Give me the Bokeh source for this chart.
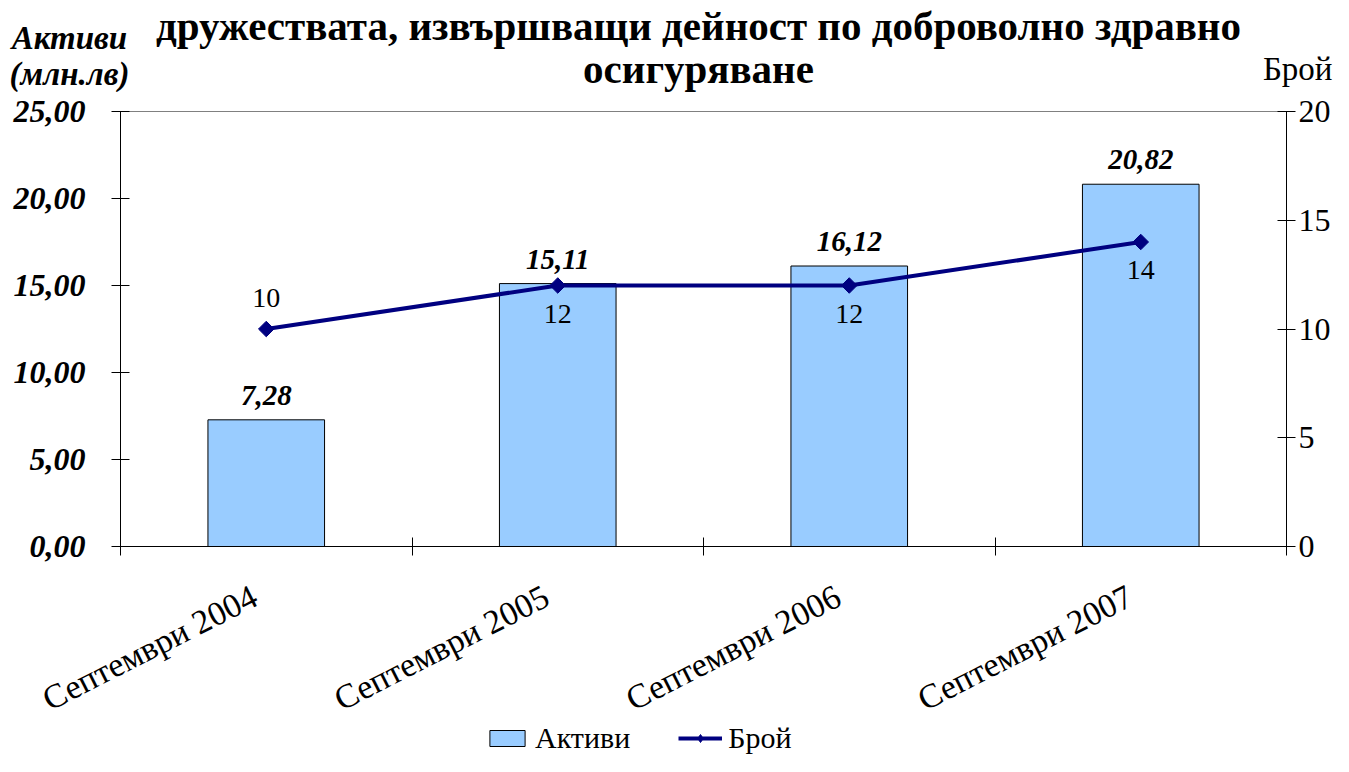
import math
from bokeh.plotting import figure
from bokeh.layouts import column
from bokeh.models import (Range1d, LinearAxis, FixedTicker, CustomJSTickFormatter,
                          ColumnDataSource, LabelSet, Legend, LegendItem)
from bokeh.core.properties import value
from bokeh.embed import file_html
from bokeh.resources import INLINE

# ---- data ----
categories = ["Септември 2004", "Септември 2005", "Септември 2006", "Септември 2007"]
assets = [7.28, 15.11, 16.12, 20.82]
counts = [10, 12, 12, 14]
left_ticks = [0, 5, 10, 15, 20, 25]
right_ticks = [0, 5, 10, 15, 20]
title_lines = ["дружествата, извършващи дейност по доброволно здравно", "осигуряване"]
left_title = ["Активи", "(млн.лв)"]
right_title = "Брой"
series_names = ["Активи", "Брой"]

SERIF = "Liberation Serif"
BAR_COLOR = "#99CCFF"
LINE_COLOR = "#000080"

# ---- layout constants (pixels) ----
W = 1333
HEAD_H = 92
FRAME_L, FRAME_R = 120, 46          # side borders of the plot area
FRAME_TOP, FRAME_H, FRAME_BOT = 19, 435, 19
MAIN_H = FRAME_TOP + FRAME_H + FRAME_BOT
FOOT_H = 756 - HEAD_H - MAIN_H
N = len(categories)
px_per_unit = (W - FRAME_L - FRAME_R) / N

xs = [i + 0.5 for i in range(N)]
bounds = list(range(N + 1))

# ---- header (titles above the plot area) ----
head = figure(width=W, height=HEAD_H, output_backend="svg", toolbar_location=None,
              x_range=Range1d(0, W), y_range=Range1d(HEAD_H, 0),
              x_axis_location=None, y_axis_location=None,
              min_border=0, min_border_left=0, min_border_right=0,
              min_border_top=0, min_border_bottom=0, outline_line_color=None)
head.frame_align = False
head.grid.visible = False
head.text(x=[698, 698], y=[25, 68], text=title_lines,
          text_font=value(SERIF), text_font_size="41px", text_font_style="bold",
          text_align="center", text_baseline="alphabetic", text_color="black")
head.text(x=[69, 69], y=[37, 73], text=left_title,
          text_font=value(SERIF), text_font_size="33px", text_font_style="bold italic",
          text_align="center", text_baseline="alphabetic", text_color="black")
head.text(x=[1332], y=[68], text=[right_title],
          text_font=value(SERIF), text_font_size="33px",
          text_align="right", text_baseline="alphabetic", text_color="black")

# ---- main chart ----
count_label_offsets = [22, -37, -37, -37]
src = ColumnDataSource(dict(
    x=xs, assets=assets, counts=counts,
    asset_lbl=[f"{v:.2f}".replace(".", ",") for v in assets],
    count_lbl=[str(c) for c in counts],
    count_off=count_label_offsets,
))

p = figure(width=W, height=MAIN_H, output_backend="svg", toolbar_location=None,
           x_range=Range1d(0, N), y_range=Range1d(0, 25),
           min_border_left=FRAME_L, min_border_right=FRAME_R,
           min_border_top=FRAME_TOP, min_border_bottom=FRAME_BOT)
p.frame_align = False
p.extra_y_ranges = {"cnt": Range1d(0, 20)}
p.grid.visible = False
p.outline_line_color = "#808080"
p.outline_line_width = 1
p.background_fill_color = "white"
p.border_fill_color = "white"

# left axis
ya = p.yaxis[0]
ya.ticker = FixedTicker(ticks=left_ticks, minor_ticks=[])
ya.formatter = CustomJSTickFormatter(code="return tick.toFixed(2).replace('.', ',')")
ya.axis_line_color = "black"
ya.major_tick_line_color = "black"
ya.major_tick_in = 9
ya.major_tick_out = 9
ya.minor_tick_line_color = None
ya.major_label_standoff = 26
ya.major_label_text_font = SERIF
ya.major_label_text_font_size = "32px"
ya.major_label_text_font_style = "bold italic"
ya.major_label_text_color = "black"

# right axis
ra = LinearAxis(y_range_name="cnt")
ra.ticker = FixedTicker(ticks=right_ticks, minor_ticks=[])
ra.axis_line_color = "black"
ra.major_tick_line_color = "black"
ra.major_tick_in = 9
ra.major_tick_out = 9
ra.minor_tick_line_color = None
ra.major_label_standoff = 3
ra.major_label_text_font = SERIF
ra.major_label_text_font_size = "32px"
ra.major_label_text_color = "black"
p.add_layout(ra, "right")

# bottom axis: only the ticks at category boundaries
xa = p.xaxis[0]
xa.ticker = FixedTicker(ticks=[], minor_ticks=bounds)
xa.axis_line_color = "black"
xa.major_tick_line_color = None
xa.major_tick_in = 0
xa.major_tick_out = 0
xa.minor_tick_line_color = "black"
xa.minor_tick_in = 9
xa.minor_tick_out = 9
xa.major_label_standoff = 0

# glyphs
bars = p.vbar(x="x", top="assets", width=0.4, source=src,
              fill_color=BAR_COLOR, line_color="black", line_width=1)
ln = p.line(x="x", y="counts", source=src, y_range_name="cnt",
            line_color=LINE_COLOR, line_width=4)
mk = p.scatter(x="x", y="counts", source=src, y_range_name="cnt",
               marker="square", angle=math.pi / 4, size=11,
               fill_color=LINE_COLOR, line_color=LINE_COLOR)

p.add_layout(LabelSet(x="x", y="assets", text="asset_lbl", source=src,
                      y_offset=15, text_align="center", text_baseline="alphabetic",
                      text_font=SERIF, text_font_size="29px",
                      text_font_style="bold italic", text_color="black"))
p.add_layout(LabelSet(x="x", y="counts", text="count_lbl", source=src,
                      y_range_name="cnt", y_offset="count_off",
                      text_align="center", text_baseline="alphabetic",
                      text_font=SERIF, text_font_size="28px", text_color="black"))

# ---- footer: rotated category labels + legend ----
# x range chosen so that category positions line up with the main plot area
foot = figure(width=W, height=FOOT_H, output_backend="svg", toolbar_location=None,
              x_range=Range1d(-FRAME_L / px_per_unit, (W - FRAME_L) / px_per_unit),
              y_range=Range1d(FOOT_H, 0),
              x_axis_location=None, y_axis_location=None,
              min_border=0, min_border_left=0, min_border_right=0,
              min_border_top=0, min_border_bottom=0, outline_line_color=None)
foot.frame_align = False
foot.grid.visible = False
cat_src = ColumnDataSource(dict(x=xs, y=[12] * N, text=categories))
foot.text(x="x", y="y", text="text", source=cat_src, angle=math.radians(27),
          x_offset=-20, text_align="right", text_baseline="top",
          text_font=value(SERIF), text_font_size="34px", text_color="black")

# legend keys: renderers on an off-screen range so only the legend shows them
foot.extra_y_ranges = {"off": Range1d(1000, 2000)}
kb = foot.vbar(x="x", top="assets", width=0.4, source=src, y_range_name="off",
               fill_color=BAR_COLOR, line_color="black", line_width=1)
kl = foot.line(x="x", y="counts", source=src, y_range_name="off",
               line_color=LINE_COLOR, line_width=4)
km = foot.scatter(x="x", y="counts", source=src, y_range_name="off",
                  marker="diamond", size=18,
                  fill_color=LINE_COLOR, line_color=LINE_COLOR)
legend = Legend(items=[LegendItem(label=series_names[0], renderers=[kb]),
                       LegendItem(label=series_names[1], renderers=[kl, km])],
                orientation="horizontal", location=(485, 1),
                label_text_font=SERIF, label_text_font_size="30px",
                label_text_color="black",
                glyph_width=44, glyph_height=20, spacing=48, padding=0, margin=0,
                border_line_color=None, background_fill_alpha=0, label_standoff=6)
foot.add_layout(legend, "center")

layout = column(head, p, foot, spacing=0)
open("out.html", "w").write(file_html(layout, INLINE))
